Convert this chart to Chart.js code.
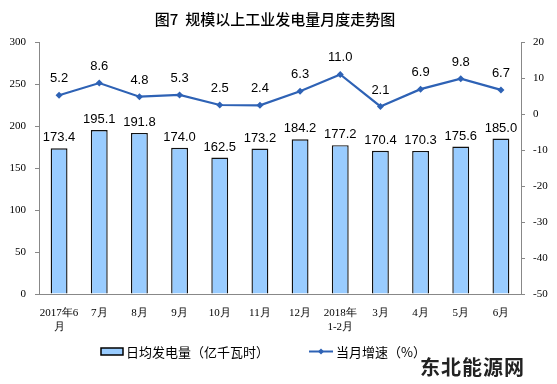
<!DOCTYPE html>
<html><head><meta charset="utf-8">
<script src="https://cdn.jsdelivr.net/npm/chart.js@4"></script>
<style>html,body{margin:0;padding:0;background:#fff}#wrap{position:relative;width:557px;height:384px}
#wm{position:absolute;left:420px;top:352px;font:bold 20px "Noto Sans CJK SC";color:#222;letter-spacing:1px}</style>
</head><body><div id="wrap"><canvas id="c" width="557" height="384"></canvas><div id="wm">东北能源网</div></div>
<script>
const categories = [["2017年6","月"],"7月","8月","9月","10月","11月","12月",["2018年","1-2月"],"3月","4月","5月","6月"];
const dailyOutput = [173.4,195.1,191.8,174.0,162.5,173.2,184.2,177.2,170.4,170.3,175.6,185.0];
const monthGrowth = [5.2,8.6,4.8,5.3,2.5,2.4,6.3,11.0,2.1,6.9,9.8,6.7];
const barLabel = "日均发电量（亿千瓦时）";
const lineLabel = "当月增速（%）";
const titleText = "图7  规模以上工业发电量月度走势图";

const BAR_FILL = "#99CCFF", LINE_COL = "#2E62B5";
const serif = "Liberation Serif";

const labelsPlugin = {
  id: "labels",
  afterDatasetsDraw(chart) {
    const ctx = chart.ctx;
    ctx.save();
    ctx.font = "13px 'Liberation Sans'";
    ctx.fillStyle = "#000";
    ctx.textAlign = "center";
    ctx.textBaseline = "bottom";
    chart.getDatasetMeta(0).data.forEach((el, i) => {
      ctx.fillText(dailyOutput[i].toFixed(1), el.x, el.y - 4);
    });
    chart.getDatasetMeta(1).data.forEach((el, i) => {
      ctx.fillText(monthGrowth[i].toFixed(1), el.x, el.y - 10);
    });
    // title
    ctx.font = "500 15px 'Noto Sans CJK SC'";
    ctx.textBaseline = "middle";
    ctx.fillText(titleText, 275, 19);
    // legend
    ctx.textAlign = "left";
    ctx.font = "13px 'Noto Sans CJK SC'";
    ctx.fillStyle = BAR_FILL; ctx.strokeStyle = "#000"; ctx.lineWidth = 1.5;
    ctx.fillRect(101, 348, 22, 7); ctx.strokeRect(101, 348, 22, 7);
    ctx.fillStyle = "#000";
    ctx.fillText(barLabel, 126, 352);
    ctx.strokeStyle = LINE_COL; ctx.lineWidth = 2;
    ctx.beginPath(); ctx.moveTo(309, 351.5); ctx.lineTo(333, 351.5); ctx.stroke();
    ctx.fillStyle = LINE_COL;
    ctx.beginPath(); ctx.moveTo(321, 348.5); ctx.lineTo(324, 351.5); ctx.lineTo(321, 354.5); ctx.lineTo(318, 351.5); ctx.closePath(); ctx.fill();
    ctx.fillStyle = "#000";
    ctx.fillText(lineLabel, 336, 352);
    ctx.restore();
  }
};

new Chart(document.getElementById("c"), {
  data: {
    labels: categories,
    datasets: [
      { type: "bar", label: barLabel, data: dailyOutput, yAxisID: "y",
        backgroundColor: BAR_FILL, borderColor: "#111", borderWidth: 1.4,
        barPercentage: 0.42, categoryPercentage: 1.0, order: 2 },
      { type: "line", label: lineLabel, data: monthGrowth, yAxisID: "y1",
        borderColor: LINE_COL, backgroundColor: LINE_COL, borderWidth: 2.2,
        pointStyle: "rectRot", pointRadius: 3.5, pointBorderWidth: 0, tension: 0, order: 1 }
    ]
  },
  options: {
    responsive: false, animation: false, devicePixelRatio: 1,
    layout: { padding: { top: 42, bottom: 0, left: 0, right: 0 } },
    plugins: { legend: { display: false }, title: { display: false }, tooltip: { enabled: false } },
    scales: {
      x: {
        grid: { display: false },
        border: { display: true, color: "#888", width: 1 },
        ticks: { color: "#000", font: { family: serif, size: 11, lineHeight: 1.25 }, maxRotation: 0, autoSkip: false, padding: 4 },
        afterFit(s) { s.height = 90; }
      },
      y: {
        position: "left", min: 0, max: 300,
        grid: { drawOnChartArea: false, drawTicks: true, tickLength: 4, color: "#888" },
        border: { display: true, color: "#888", width: 1 },
        ticks: { stepSize: 50, color: "#000", font: { family: serif, size: 11 }, padding: 9 },
        afterFit(s) { s.width = 39; }
      },
      y1: {
        position: "right", min: -50, max: 20,
        grid: { drawOnChartArea: false, drawTicks: true, tickLength: 4, color: "#888" },
        border: { display: true, color: "#888", width: 1 },
        ticks: { stepSize: 10, color: "#000", font: { family: serif, size: 11 }, padding: 8 },
        afterFit(s) { s.width = 36; }
      }
    }
  },
  plugins: [labelsPlugin]
});
</script>
</body></html>
